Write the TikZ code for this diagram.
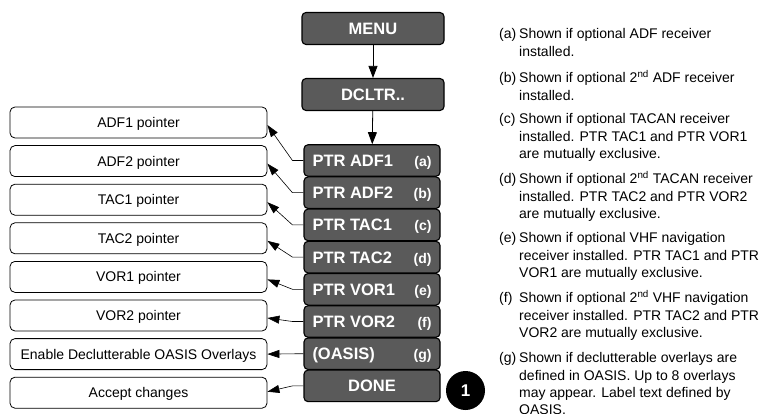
\documentclass[tikz,border=0pt]{standalone}
\usepackage{fontspec}
\setmainfont{Liberation Sans}
\usetikzlibrary{arrows.meta,calc}
\definecolor{boxgray}{RGB}{90,90,90}
\newcommand{\tagf}{\fontsize{14}{16}\selectfont}
\begin{document}
\begin{tikzpicture}[x=1pt,y=-1pt,
 menubox/.style={draw=black, line width=1.1pt, fill=boxgray, rounded corners=4pt,
   minimum width=142pt, minimum height=32pt, inner sep=0pt, text=white,
   text height=11.8pt, text depth=0pt, font=\fontsize{16.5}{18}\selectfont\bfseries},
 optbox/.style={menubox, minimum width=136pt, minimum height=31.5pt},
 infobox/.style={draw=black, line width=0.8pt, fill=white, rounded corners=5pt,
   minimum width=257pt, minimum height=31pt, inner sep=0pt,
   text height=10pt, text depth=0pt, font=\fontsize{14}{16}\selectfont},
 conn/.style={draw=black, line width=0.6pt, -{Triangle[length=12pt,width=8pt]}},
 vconn/.style={draw=black, line width=0.8pt, -{Triangle[length=12pt,width=9pt]}},
 note/.style={anchor=base west, inner sep=0pt, font=\fontsize{14}{17.4}\selectfont},
 badge/.style={circle, fill=black, minimum size=39pt, inner sep=0pt, text=white,
   font=\fontsize{17}{18}\selectfont\bfseries}
]
\useasboundingbox (0,0) rectangle (765,414);

% top menu boxes
\node[menubox] (menu) at (373,28.5) {MENU};
\node[menubox] (dcltr) at (373,94.5) {DCLTR..};

% option boxes
\foreach \i/\lab/\tg in {1/PTR ADF1/a,2/PTR ADF2/b,3/PTR TAC1/c,4/PTR TAC2/d,5/PTR VOR1/e,6/PTR VOR2/f,7/(OASIS)/g}{
  \node[optbox] (o\i) at (372,{160.5+32.2*(\i-1)}) {\hbox to 119pt{\lab\hfill{\tagf(\tg)}}};
}
\node[optbox] (o8) at (372,385.9) {DONE};

% info boxes
\foreach \i/\txt in {1/ADF1 pointer,2/ADF2 pointer,3/TAC1 pointer,4/TAC2 pointer,5/VOR1 pointer,6/VOR2 pointer,7/Enable Declutterable OASIS Overlays,8/Accept changes}{
  \node[infobox] (i\i) at (138.5,{122.5+38.6*(\i-1)}) {\txt};
}

% vertical arrows
\draw[vconn] (menu) -- (dcltr);
\draw[vconn] (dcltr) -- (o1);

% connectors
\foreach \i in {1,...,6}{
  \draw[conn] (o\i.west) -- ++(-11,0) -- ([yshift=-2.5pt]i\i.east);
}
\draw[conn] (o7.west) -- (i7.east);
\draw[conn] (o8.west) -- ++(-11,0) -- ([yshift=1pt]i8.east);

% badge
\node[badge] (b1) at (465.5,390.5) {1};

% notes
\newcommand{\notepar}[4]{\node[note] (#1) at (499,#2) {\makebox[20pt][l]{(#3)}\parbox[t]{250pt}{\fontsize{14}{17.4}\selectfont #4}};}
\notepar{na}{38.7}{a}{Shown if optional ADF receiver\\installed.}
\notepar{nb}{82.7}{b}{Shown if optional 2\textsuperscript{nd} ADF receiver\\installed.}
\notepar{nc}{123.7}{c}{Shown if optional TACAN receiver\\installed. PTR TAC1 and PTR VOR1\\are mutually exclusive.}
\notepar{nd}{183.7}{d}{Shown if optional 2\textsuperscript{nd} TACAN receiver\\installed. PTR TAC2 and PTR VOR2\\are mutually exclusive.}
\notepar{ne}{242.7}{e}{Shown if optional VHF navigation\\receiver installed. PTR TAC1 and PTR\\VOR1 are mutually exclusive.}
\notepar{nf}{302.7}{f}{Shown if optional 2\textsuperscript{nd} VHF navigation\\receiver installed. PTR TAC2 and PTR\\VOR2 are mutually exclusive.}
\notepar{ng}{362.7}{g}{Shown if declutterable overlays are\\defined in OASIS. Up to 8 overlays\\may appear. Label text defined by\\OASIS.}
\end{tikzpicture}
\end{document}
